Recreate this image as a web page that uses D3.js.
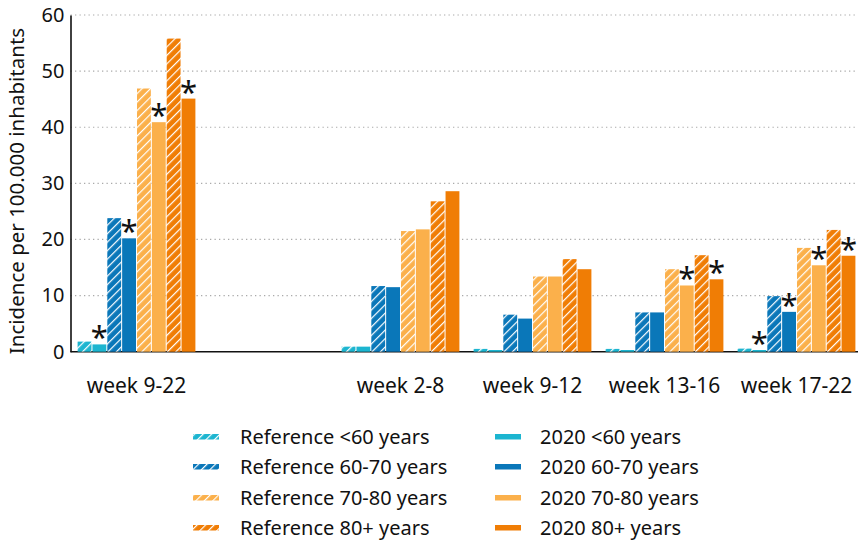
<!DOCTYPE html>
<html>
<head>
<meta charset="utf-8">
<script src="https://cdn.jsdelivr.net/npm/d3@7/dist/d3.min.js"></script>
<style>
  html, body { margin: 0; padding: 0; background: #fff; }
  svg { display: block; font-family: "Noto Sans", "Open Sans", sans-serif; }
</style>
</head>
<body>
<svg id="chart" width="858" height="543"></svg>
<script>
// Periods (a blank slot separates the full period from the sub-periods)
const categories = ["week 9-22", "week 2-8", "week 9-12", "week 13-16", "week 17-22"];

// Incidence per 100.000 inhabitants, reference years vs 2020, by age group
const refLt60   = [1.8, 0.9, 0.5, 0.5, 0.55];
const cur2020Lt60 = [1.3, 0.9, 0.3, 0.3, 0.3];
const ref6070   = [23.8, 11.7, 6.6, 7.0, 9.9];
const cur20206070 = [20.2, 11.5, 5.9, 7.0, 7.1];
const ref7080   = [46.9, 21.5, 13.4, 14.7, 18.5];
const cur20207080 = [40.9, 21.8, 13.4, 11.8, 15.4];
const ref80     = [55.8, 26.8, 16.5, 17.2, 21.7];
const cur202080 = [45.1, 28.6, 14.7, 12.9, 17.1];

// Significant difference markers for the 2020 bars
const sigLt60 = [true, false, false, false, true];
const sig6070 = [true, false, false, false, true];
const sig7080 = [true, false, false, true, true];
const sig80   = [true, false, false, true, true];

const yTicks = [0, 10, 20, 30, 40, 50, 60];

const colors = { lt60: "#1cb5d0", a6070: "#0a77b9", a7080: "#fbb04b", a80: "#f07d05" };

const series = [
  { key: "refLt60",  label: "Reference <60 years",   values: refLt60,     color: colors.lt60,  hatch: true },
  { key: "curLt60",  label: "2020 <60 years",        values: cur2020Lt60, color: colors.lt60,  hatch: false, sig: sigLt60 },
  { key: "ref6070",  label: "Reference 60-70 years", values: ref6070,     color: colors.a6070, hatch: true },
  { key: "cur6070",  label: "2020 60-70 years",      values: cur20206070, color: colors.a6070, hatch: false, sig: sig6070 },
  { key: "ref7080",  label: "Reference 70-80 years", values: ref7080,     color: colors.a7080, hatch: true },
  { key: "cur7080",  label: "2020 70-80 years",      values: cur20207080, color: colors.a7080, hatch: false, sig: sig7080 },
  { key: "ref80",    label: "Reference 80+ years",   values: ref80,       color: colors.a80,   hatch: true },
  { key: "cur80",    label: "2020 80+ years",        values: cur202080,   color: colors.a80,   hatch: false, sig: sig80 }
];

const svg = d3.select("#chart");
const plot = { left: 70.5, right: 862.5, top: 15, bottom: 351.7 };

const GAP = "__gap__";
const xDomain = [categories[0], GAP, ...categories.slice(1)];

const x0 = d3.scaleBand().domain(xDomain).range([plot.left, plot.right])
  .paddingInner(0.1).paddingOuter(0.05);
const x1 = d3.scaleBand().domain(series.map(s => s.key)).range([0, x0.bandwidth()]).padding(0);
const y = d3.scaleLinear().domain([0, 60]).range([plot.bottom, plot.top]);

// Hatch patterns for the reference bars
const defs = svg.append("defs");
series.filter(s => s.hatch).forEach(s => {
  const p = defs.append("pattern")
    .attr("id", "hatch-" + s.key)
    .attr("patternUnits", "userSpaceOnUse")
    .attr("width", 6).attr("height", 6)
    .attr("patternTransform", "rotate(45)");
  p.append("rect").attr("width", 6).attr("height", 6).attr("fill", s.color);
  p.append("line").attr("x1", 0).attr("y1", 0).attr("x2", 0).attr("y2", 6)
    .attr("stroke", "#fff").attr("stroke-width", 2.4);
});

// Dotted gridlines
svg.append("g")
  .selectAll("line")
  .data(yTicks.filter(t => t > 0))
  .join("line")
  .attr("x1", plot.left).attr("x2", 858)
  .attr("y1", d => y(d)).attr("y2", d => y(d))
  .attr("stroke", "#aaa").attr("stroke-width", 1.2)
  .attr("stroke-dasharray", "1.3,3.2");

// Y axis
const yAxis = svg.append("g")
  .attr("transform", `translate(${plot.left},0)`)
  .call(d3.axisLeft(y).tickValues(yTicks).tickSize(0).tickPadding(6));
yAxis.select(".domain").attr("stroke", "#111").attr("stroke-width", 1.6);
yAxis.selectAll("text").attr("font-size", 20).attr("fill", "#111")
  .attr("font-family", "'Noto Sans', sans-serif");

// X axis
const xAxis = svg.append("g")
  .attr("transform", `translate(0,${plot.bottom})`)
  .call(d3.axisBottom(x0).tickSize(0).tickPadding(26).tickFormat(d => d === GAP ? "" : d));
xAxis.select(".domain").attr("d", `M${plot.left},0H858`).attr("stroke", "#111").attr("stroke-width", 1.6);
xAxis.selectAll("text").attr("font-size", 21).attr("fill", "#111")
  .attr("font-family", "'Noto Sans', sans-serif");

// Bars
const groups = svg.append("g")
  .selectAll("g")
  .data(categories.map((c, i) => ({ cat: c, i })))
  .join("g")
  .attr("transform", d => `translate(${x0(d.cat)},0)`);

groups.selectAll("rect")
  .data(d => series.map(s => ({ s, v: s.values[d.i], i: d.i })))
  .join("rect")
  .attr("x", d => x1(d.s.key) + 0.5)
  .attr("width", x1.bandwidth() - 1)
  .attr("y", d => y(d.v))
  .attr("height", d => y(0) - y(d.v))
  .attr("fill", d => d.s.hatch ? `url(#hatch-${d.s.key})` : d.s.color);

// Significance asterisks
groups.selectAll("text.sig")
  .data(d => series.filter(s => s.sig && s.sig[d.i]).map(s => ({ s, v: s.values[d.i] })))
  .join("text")
  .attr("class", "sig")
  .attr("x", d => x1(d.s.key) + x1.bandwidth() / 2)
  .attr("y", d => y(d.v) + 4)
  .attr("text-anchor", "middle")
  .attr("font-size", 31)
  .attr("fill", "#111")
  .text("*");

// Y axis title
svg.append("text")
  .attr("transform", "translate(24,191) rotate(-90)")
  .attr("text-anchor", "middle")
  .attr("font-size", 20.5)
  .attr("fill", "#111")
  .text("Incidence per 100.000 inhabitants");

// Legend: reference series left column, 2020 series right column
const legendRows = [437, 467, 498, 528];
const legendCols = [{ sw: 193, tx: 240 }, { sw: 495, tx: 540 }];
series.forEach((s, k) => {
  const col = legendCols[s.hatch ? 0 : 1];
  const row = legendRows[Math.floor(k / 2)];
  const g = svg.append("g");
  g.append("rect")
    .attr("x", col.sw).attr("y", row - 3).attr("width", 26).attr("height", 5.5)
    .attr("fill", s.hatch ? `url(#hatch-${s.key})` : s.color);
  g.append("text")
    .attr("x", col.tx).attr("y", row)
    .attr("dy", "0.35em")
    .attr("font-size", 20)
    .attr("fill", "#111")
    .text(s.label);
});
</script>
</body>
</html>
